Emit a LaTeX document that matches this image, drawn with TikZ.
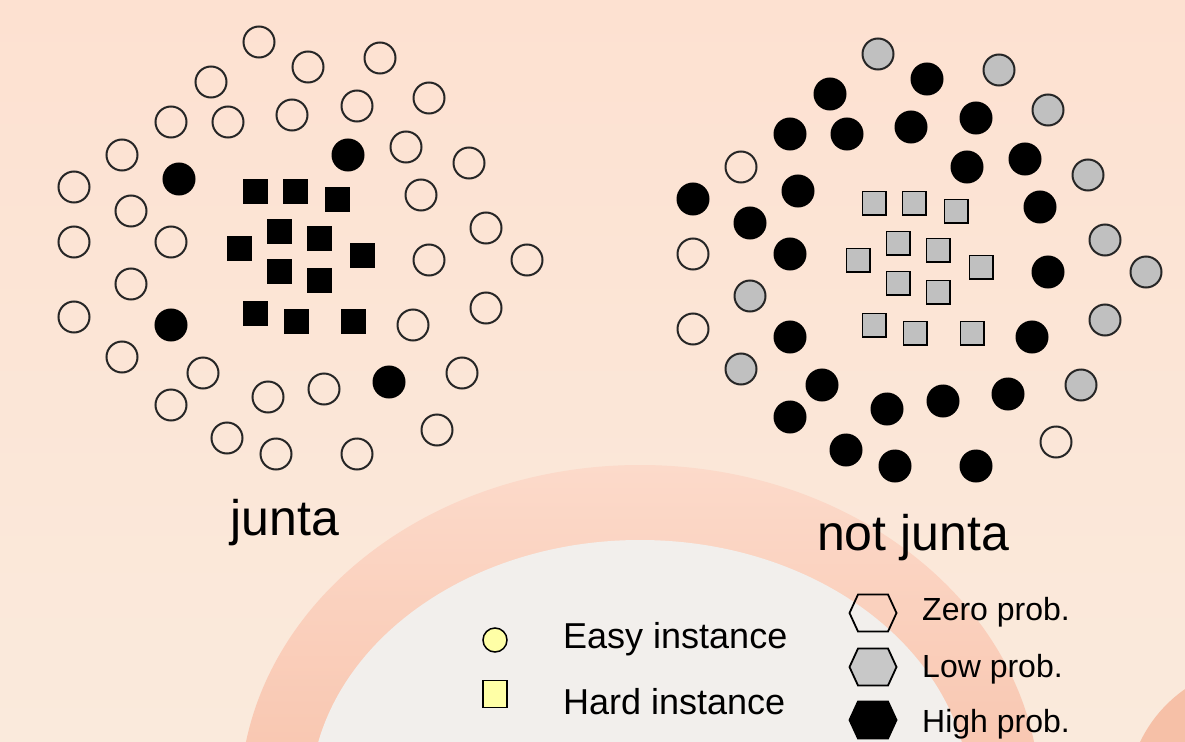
\documentclass[tikz,border=0pt]{standalone}
\usepackage{fontspec}
\setmainfont{Liberation Sans}
\definecolor{bgtop}{HTML}{FDE1D1}
\definecolor{bgbot}{HTML}{FAEADC}
\definecolor{bandtop}{HTML}{FCDACA}
\definecolor{bandbot}{HTML}{F4AE90}
\definecolor{dome}{HTML}{F2EFEC}
\definecolor{lowgrey}{HTML}{C0C0C0}
\definecolor{legendgrey}{HTML}{C8C8C8}
\definecolor{easyyellow}{HTML}{FFFFA6}
\begin{document}
\begin{tikzpicture}[x=1pt,y=-1pt,
  ring/.style={circle, inner sep=0pt, minimum size=31pt, line width=2pt},
  ez/.style={ring, draw=black!85},
  hi/.style={ring, draw=black, fill=black},
  lo/.style={ring, draw=black!85, fill=lowgrey},
  blk/.style={rectangle, inner sep=0pt, minimum size=25pt, fill=black},
  gsq/.style={rectangle, inner sep=0pt, minimum size=23.5pt, line width=1.5pt, draw=black, fill=lowgrey},
  title/.style={inner sep=0pt, anchor=base, font=\fontsize{50}{60}\selectfont},
  keybig/.style={inner sep=0pt, anchor=base west, font=\fontsize{36}{43}\selectfont},
  keysmall/.style={inner sep=0pt, anchor=base west, font=\fontsize{32}{38}\selectfont},
  hexzero/.style={draw=black, line width=1.8pt},
  hexlow/.style={draw=black, line width=1.8pt, fill=legendgrey},
  hexhigh/.style={draw=black, line width=1.8pt, fill=black},
]
\useasboundingbox (0,0) rectangle (1185,741);

% background: warm wash with a large arch
\begin{scope}
  \clip (0,0) rectangle (1185,741);
  \shade[top color=bgtop, bottom color=bgbot] (0,0) rectangle (1185,741);
  \shade[top color=bandtop, bottom color=bandbot] (640,800) ellipse [x radius=400, y radius=335];
  \fill[dome] (640,800) ellipse [x radius=330, y radius=260];
  \fill[bandbot!70!bgbot] (1262,800) circle [radius=135];
\end{scope}

% instances: left side = junta, right side = shifted copy (not junta)
\foreach \x/\y/\l/\r [count=\i] in {
  259/42/ez/lo, 308/67/ez/hi, 380/58/ez/lo, 211/82/ez/hi, 171/122/ez/hi,
  228/122/ez/hi, 292/115/ez/hi, 357/106/ez/hi, 429/98/ez/lo, 122/155/ez/ez,
  179/179/hi/hi, 348/155/hi/hi, 406/147/ez/hi, 469/163/ez/lo, 74/187/ez/hi,
  131/211/ez/hi, 421/195/ez/hi, 74/242/ez/ez, 171/242/ez/hi, 486/228/ez/lo,
  527/260/ez/lo, 429/260/ez/hi, 131/284/ez/lo, 74/317/ez/ez, 171/325/hi/hi,
  486/308/ez/lo, 413/325/ez/hi, 122/357/ez/lo, 203/373/ez/hi, 462/373/ez/lo,
  389/382/hi/hi, 171/405/ez/hi, 268/397/ez/hi, 324/389/ez/hi, 437/430/ez/ez,
  227/438/ez/hi, 276/454/ez/hi, 357/454/ez/hi}{
  \node[\l] (L\i) at (\x,\y) {};
  \node[\r] (R\i) at (\x+619,\y+12) {};
}

\foreach \x/\y [count=\i] in {
  255/191, 295/191, 337/199, 279/231, 319/238, 239/248,
  362/255, 279/271, 319/280, 255/313, 296/321, 353/321}{
  \node[blk] (LS\i) at (\x,\y) {};
  \node[gsq] (RS\i) at (\x+619,\y+12) {};
}

\node[title] (tjunta) at (285,535) {junta};
\node[title] (tnot) at (913,550) {not junta};

% legend: instance kinds
\node[circle, draw=black, line width=1.5pt, fill=easyyellow, inner sep=0pt, minimum size=24pt] (keyeasy) at (495,640) {};
\node[rectangle, draw=black, line width=1.5pt, fill=easyyellow, inner sep=0pt, minimum width=24pt, minimum height=27pt] (keyhard) at (495,694) {};
\node[keybig] (teasy) at (563,648) {Easy instance};
\node[keybig] (thard) at (563,714) {Hard instance};

% legend: probabilities
\coordinate (hz) at (873,613);
\coordinate (hl) at (873,667);
\coordinate (hh) at (873,720);
\path[hexzero, shift={(hz)}] (-23.5,0) -- (-15,-18.5) -- (15,-18.5) -- (23.5,0) -- (15,18.5) -- (-15,18.5) -- cycle;
\path[hexlow, shift={(hl)}] (-23.5,0) -- (-15,-18.5) -- (15,-18.5) -- (23.5,0) -- (15,18.5) -- (-15,18.5) -- cycle;
\path[hexhigh, shift={(hh)}] (-23.5,0) -- (-15,-18.5) -- (15,-18.5) -- (23.5,0) -- (15,18.5) -- (-15,18.5) -- cycle;
\node[keysmall] (tzero) at (922,620) {Zero prob.};
\node[keysmall] (tlow) at (922,677) {Low prob.};
\node[keysmall] (thigh) at (922,732) {High prob.};
\end{tikzpicture}
\end{document}
